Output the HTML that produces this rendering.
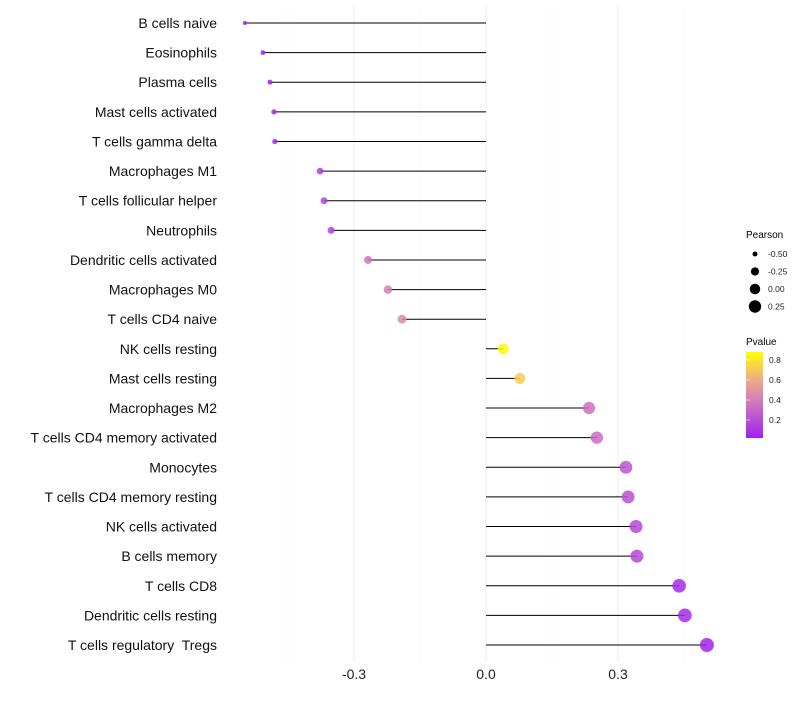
<!DOCTYPE html>
<html><head><meta charset="utf-8"><style>
body{margin:0;background:#fff;font-family:"Liberation Sans",sans-serif;}
text{white-space:pre;}
</style></head><body>
<svg id="chart" width="800" height="700" xmlns="http://www.w3.org/2000/svg">
<defs>
<linearGradient id="pg" x1="0" y1="1" x2="0" y2="0">
<stop offset="0" stop-color="#a020f0"/><stop offset="0.45" stop-color="#d47fb8"/><stop offset="0.7" stop-color="#f0b080"/><stop offset="1" stop-color="#ffff00"/>
</linearGradient>
</defs>
<g id="grid"></g><g id="marks"></g><g id="labels"></g><g id="legend"></g>
</svg>
<script>
const categories=["B cells naive","Eosinophils","Plasma cells","Mast cells activated","T cells gamma delta","Macrophages M1","T cells follicular helper","Neutrophils","Dendritic cells activated","Macrophages M0","T cells CD4 naive","NK cells resting","Mast cells resting","Macrophages M2","T cells CD4 memory activated","Monocytes","T cells CD4 memory resting","NK cells activated","B cells memory","T cells CD8","Dendritic cells resting","T cells regulatory  Tregs"];
const pearson=[-0.548,-0.507,-0.491,-0.482,-0.48,-0.377,-0.368,-0.352,-0.268,-0.223,-0.191,0.039,0.077,0.234,0.252,0.318,0.323,0.341,0.343,0.439,0.452,0.502];
const pvalue=[0.02,0.03,0.04,0.05,0.05,0.15,0.18,0.17,0.4,0.45,0.5,0.97,0.8,0.38,0.36,0.25,0.24,0.2,0.2,0.08,0.07,0.04];
const xTicks=[-0.3,0,0.3];
const xMinor=[-0.45,-0.15,0.15,0.45];
const sizeLegend=[-0.5,-0.25,0,0.25];
const pLegend=[0.8,0.6,0.4,0.2];
const NS="http://www.w3.org/2000/svg";
const xs=v=>486+v*440;
const ys=i=>23+i*(645-23)/(categories.length-1);
const rs=v=>Math.sqrt(Math.max(1,4+(v+0.55)*42.9));
function lerp(a,b,t){return a.map((c,i)=>Math.round(c+(b[i]-c)*t));}
const stops=[[0,[160,32,240]],[0.45,[212,127,184]],[0.7,[240,176,128]],[1,[255,255,0]]];
function col(p){const t=(p-0.02)/0.96;for(let i=1;i<stops.length;i++){if(t<=stops[i][0]){const a=stops[i-1],b=stops[i];const c=lerp(a[1],b[1],(t-a[0])/(b[0]-a[0]));return `rgb(${c})`;}}return 'rgb(255,255,0)';}
function mk(tag,attrs,parent,txt){const e=document.createElementNS(NS,tag);for(const k in attrs)e.setAttribute(k,attrs[k]);if(txt!==undefined)e.textContent=txt;parent.appendChild(e);return e;}
const grid=document.getElementById('grid'),marks=document.getElementById('marks'),labels=document.getElementById('labels'),legend=document.getElementById('legend');
xMinor.forEach(v=>{const l=mk('line',{x1:xs(v),x2:xs(v),y1:5,y2:662,stroke:'#f5f5f5','stroke-width':0.6},grid);

});
xTicks.forEach(v=>{const l=mk('line',{x1:xs(v),x2:xs(v),y1:5,y2:662,stroke:'#ededed','stroke-width':1},grid);


const t=mk('text',{x:xs(v),y:679,'text-anchor':'middle','font-size':14,fill:'#222'},labels,v===0?'0.0':v.toFixed(1));

});
categories.forEach((c,i)=>{const y=ys(i);
const l=mk('line',{x1:xs(0),x2:xs(pearson[i]),y1:y,y2:y,stroke:'#000','stroke-width':1},marks);


const p=mk('circle',{cx:xs(pearson[i]),cy:y,r:rs(pearson[i]),fill:col(pvalue[i]),'fill-opacity':0.85},marks);


const t=mk('text',{x:217,y:y+5,'text-anchor':'end','font-size':14,fill:'#111'},labels,c);

});
const lt=mk('text',{x:746,y:238,'font-size':10,fill:'#000'},legend,'Pearson');


sizeLegend.forEach((v,i)=>{const y=254+i*17.5;
const c=mk('circle',{cx:755,cy:y,r:rs(v),fill:'#000'},legend);


const t=mk('text',{x:768,y:y+3,'font-size':8.5,fill:'#222'},legend,v.toFixed(2));

});
const pt=mk('text',{x:746,y:345,'font-size':10,fill:'#000'},legend,'Pvalue');


const bar=mk('rect',{x:746,y:352,width:17,height:86,fill:'url(#pg)'},legend);


pLegend.forEach(v=>{const y=360+(0.8-v)*100;
const tk=mk('line',{x1:746,x2:750,y1:y,y2:y,stroke:'#fff','stroke-opacity':0.6},legend);


const t=mk('text',{x:769,y:y+3,'font-size':8.5,fill:'#222'},legend,v.toFixed(1));

});
</script>
</body></html>
